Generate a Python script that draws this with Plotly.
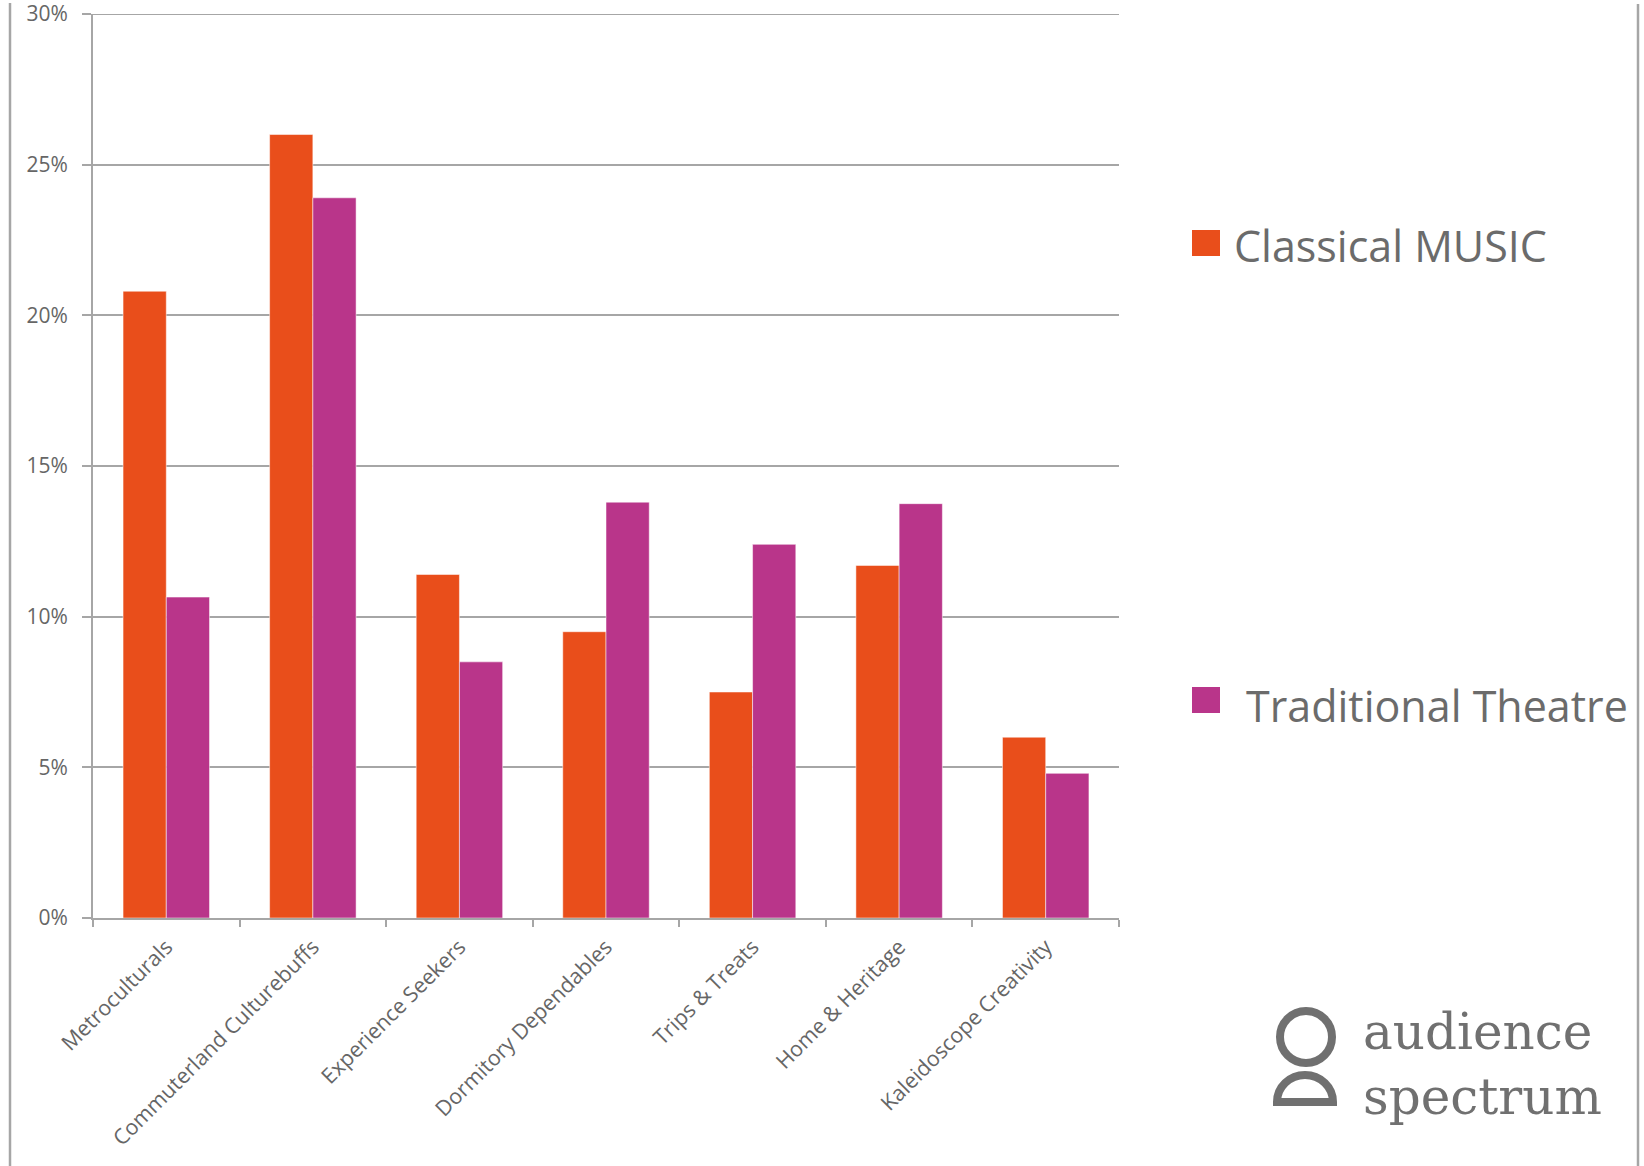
import plotly.graph_objects as go

categories = ["Metroculturals", "Commuterland Culturebuffs", "Experience Seekers",
              "Dormitory Dependables", "Trips & Treats", "Home & Heritage",
              "Kaleidoscope Creativity"]
classical_music = [20.8, 26.0, 11.4, 9.5, 7.5, 11.7, 6.0]
traditional_theatre = [10.65, 23.9, 8.5, 13.8, 12.4, 13.75, 4.8]
series_names = ["Classical MUSIC", "Traditional Theatre"]
y_tick_values = [0, 5, 10, 15, 20, 25, 30]
y_tick_labels = ["0%", "5%", "10%", "15%", "20%", "25%", "30%"]
logo_text = "audience<br>spectrum"

ORANGE = "#E94E1B"
PURPLE = "#B9358A"
GRID = "#A6A6A6"
TEXT = "#666666"

W, H = 1644, 1166
L, R = 93, 1119
T, B = 14, 918


def px(x):
    return (x - L) / (R - L)


def py(y):
    return (B - y) / (B - T)


fig = go.Figure()
fig.add_trace(go.Bar(x=categories, y=classical_music, name=series_names[0],
                     marker=dict(color=ORANGE, line=dict(color="rgba(255,255,255,0.5)", width=1))))
fig.add_trace(go.Bar(x=categories, y=traditional_theatre, name=series_names[1],
                     marker=dict(color=PURPLE, line=dict(color="rgba(255,255,255,0.5)", width=1))))

shapes = []
annotations = []

# top gridline (at the edge of the range)
shapes.append(dict(type="line", xref="paper", yref="y", x0=px(L - 9), x1=1, y0=30, y1=30,
                   line=dict(color=GRID, width=2), layer="below"))

# frame lines
for xline, y0 in [(10, 3), (1638, 4)]:
    shapes.append(dict(type="line", xref="paper", yref="paper",
                       x0=px(xline), x1=px(xline), y0=py(y0), y1=py(H),
                       line=dict(color=GRID, width=2.5)))

# legend
legend_items = [
    (series_names[0], ORANGE, 230, 256, 1232, 246),
    (series_names[1], PURPLE, 687, 713, 1244, 705),
]
for name, col, y0, y1, tx, ty in legend_items:
    shapes.append(dict(type="rect", xref="paper", yref="paper",
                       x0=px(1192), x1=px(1220), y0=py(y1), y1=py(y0),
                       fillcolor=col, line=dict(width=0)))
    annotations.append(dict(text=name, xref="paper", yref="paper",
                            x=px(tx), y=py(ty), xanchor="left", yanchor="middle",
                            showarrow=False,
                            font=dict(family="Open Sans", size=43, color="#6b6b6b")))

# logo icon
LOGO = "#707070"
cx, cy, r = 1306, 1037, 26
shapes.append(dict(type="circle", xref="paper", yref="paper",
                   x0=px(cx - r), x1=px(cx + r), y0=py(cy + r), y1=py(cy - r),
                   line=dict(color=LOGO, width=8)))
dcx, dcy, rx, ry, k = 1305, 1102, 28, 27, 0.5523
pts = [
    ("M", [(dcx - rx, dcy)]),
    ("C", [(dcx - rx, dcy - k * ry), (dcx - k * rx, dcy - ry), (dcx, dcy - ry)]),
    ("C", [(dcx + k * rx, dcy - ry), (dcx + rx, dcy - k * ry), (dcx + rx, dcy)]),
]
path = ""
for cmd, plist in pts:
    path += cmd + " " + " ".join(f"{px(a):.5f},{py(b):.5f}" for a, b in plist) + " "
path += "Z"
shapes.append(dict(type="path", xref="paper", yref="paper", path=path,
                   line=dict(color=LOGO, width=8)))

annotations.append(dict(text=logo_text, xref="paper", yref="paper",
                        x=px(1361), y=py(1064), xanchor="left", yanchor="middle",
                        align="left", showarrow=False,
                        font=dict(family="DejaVu Serif", size=50, color=LOGO)))

fig.update_layout(
    width=W, height=H, autosize=False,
    margin=dict(l=L, r=W - R, t=T, b=H - B, pad=0),
    paper_bgcolor="white", plot_bgcolor="white",
    barmode="group", bargap=0.41, bargroupgap=0,
    showlegend=False,
    shapes=shapes, annotations=annotations,
    font=dict(family="Open Sans", color=TEXT),
)
fig.update_xaxes(
    tickangle=-45, tickson="boundaries", ticks="outside", ticklen=7,
    tickwidth=2, tickcolor=GRID, showline=True, linecolor=GRID, linewidth=2,
    showgrid=False, automargin=False, ticklabelstandoff=6,
    tickfont=dict(family="Open Sans", size=21.4, color=TEXT),
)
fig.update_yaxes(
    range=[0, 30], tickvals=y_tick_values, ticktext=y_tick_labels,
    ticks="outside", ticklen=9, tickwidth=2, tickcolor=GRID,
    showline=True, linecolor=GRID, linewidth=2,
    showgrid=True, gridcolor=GRID, gridwidth=2, zeroline=False,
    ticklabelstandoff=10, automargin=False, ticklabeloverflow="allow",
    tickfont=dict(family="Open Sans", size=21, color=TEXT),
)

fig.write_html("out.html")
